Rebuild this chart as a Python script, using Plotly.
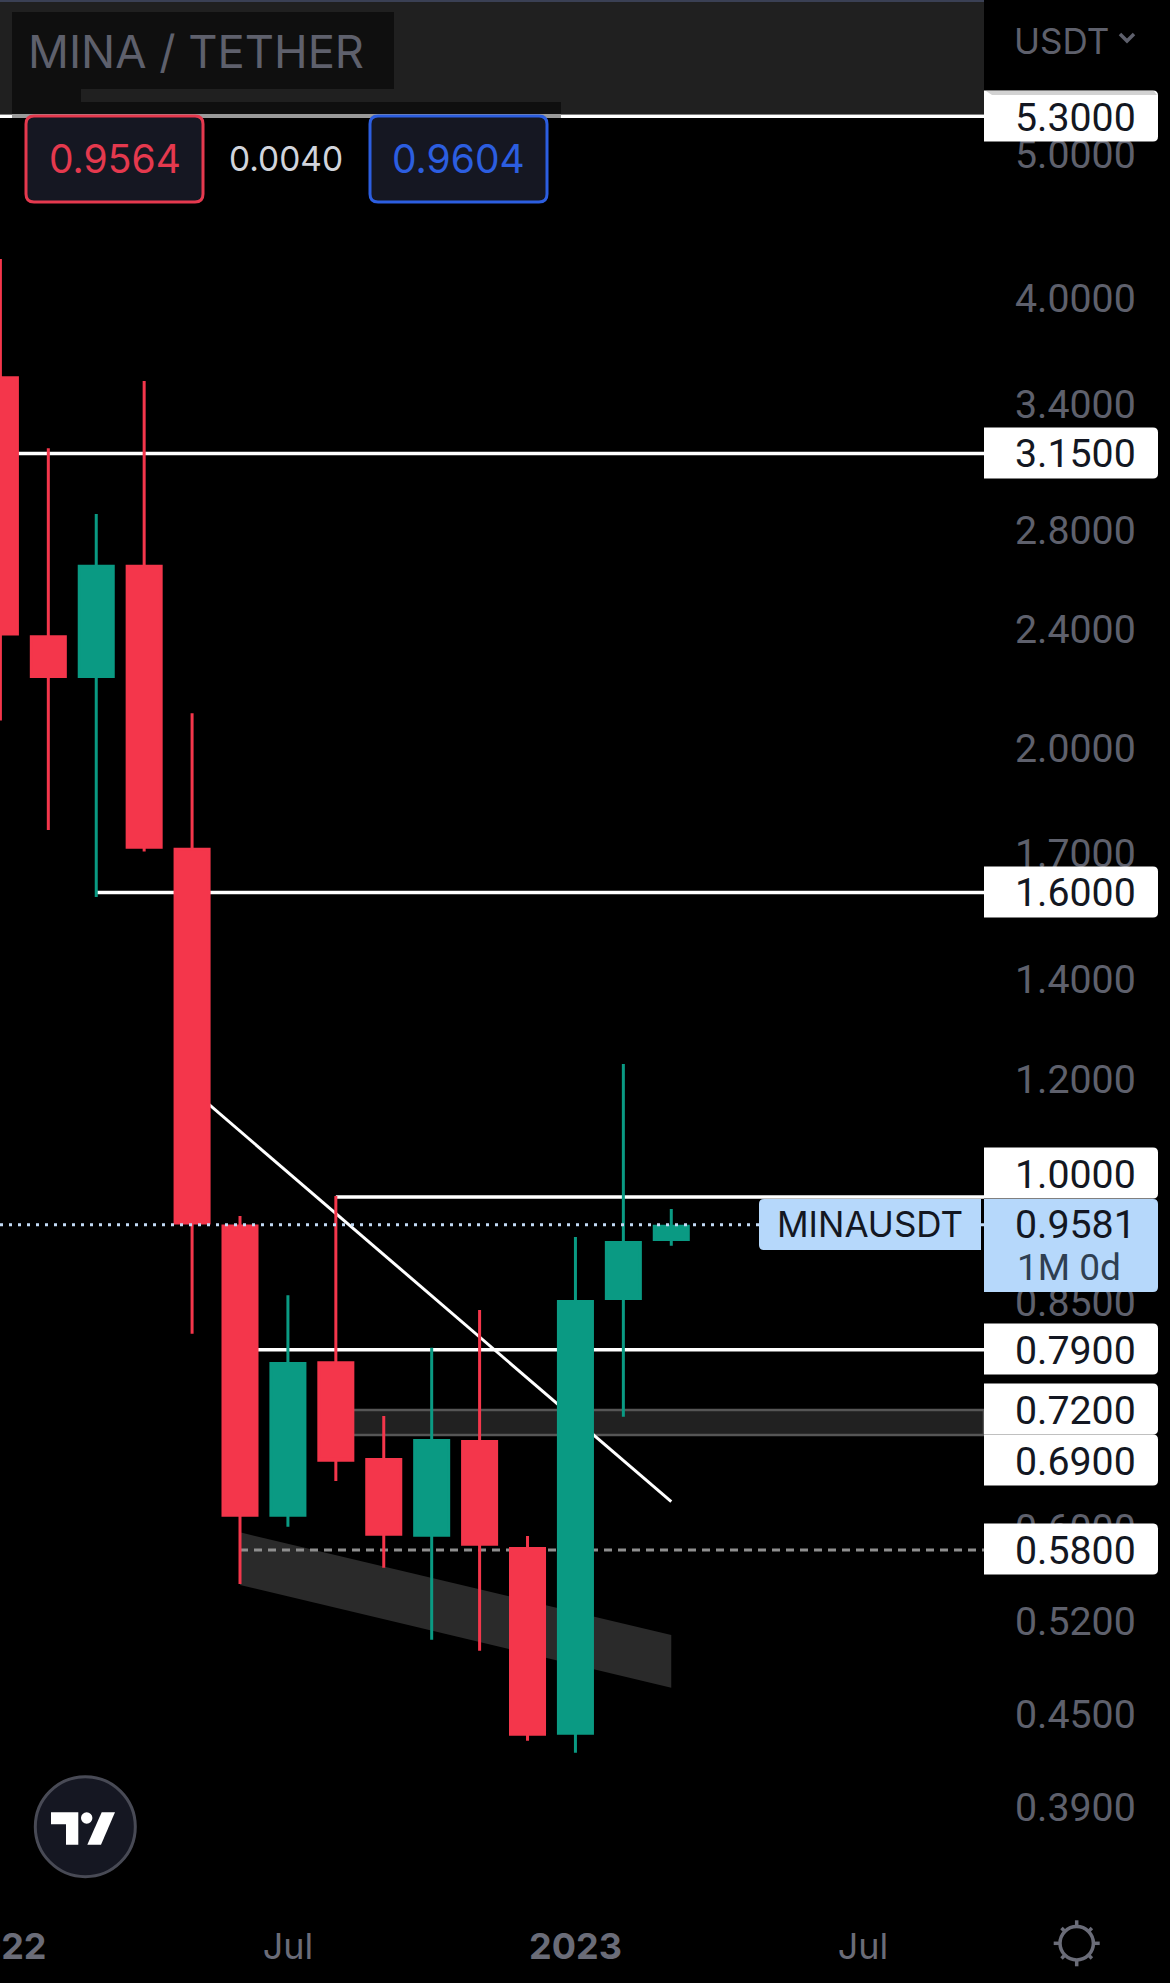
#!/usr/bin/env python3

import math
import plotly.graph_objects as go

# monthly candles, Jan 2022 .. Mar 2023
months = ['2022-01', '2022-02', '2022-03', '2022-04', '2022-05', '2022-06', '2022-07', '2022-08',
          '2022-09', '2022-10', '2022-11', '2022-12', '2023-01', '2023-02', '2023-03']
opens = [3.541, 2.374, 2.233, 2.647, 1.71, 0.9561, 0.612, 0.7744, 0.6669, 0.5934, 0.6857, 0.5814, 0.4371, 0.855, 0.9366]
highs = [4.253, 3.176, 2.869, 3.523, 2.11, 0.9711, 0.8594, 1.0015, 0.7132, 0.7925, 0.84, 0.5927, 0.9401, 1.2278, 0.9817]
lows = [2.086, 1.762, 1.589, 1.7046, 0.8097, 0.5503, 0.6012, 0.6451, 0.5644, 0.505, 0.4965, 0.4321, 0.4242, 0.7125, 0.9276]
closes = [2.384, 2.233, 2.647, 1.7154, 0.9605, 0.612, 0.7734, 0.6661, 0.5943, 0.6868, 0.5851, 0.4365, 0.851, 0.9322, 0.9559]

# axis ticks
price_ticks = [5.0, 4.0, 3.4, 2.8, 2.4, 2.0, 1.7, 1.4, 1.2, 0.85, 0.6, 0.52, 0.45, 0.39]
time_ticks = [0, 6, 12, 18]
time_labels = ['<b>2022</b>', 'Jul', '<b>2023</b>', 'Jul']

# drawn levels: price and the candle index they start from
level_prices = [5.3, 3.15, 1.6, 1.0, 0.79]
level_starts = [-1, 0, 2, 7, 5]
dashed_level = 0.58
dashed_start = 5
box_start = 7
box_top, box_bottom = 0.72, 0.6926
trend_x = [4, 14]
trend_y = [1.1796, 0.6249]
wedge_x = [5, 14, 14, 5]
wedge_y = [0.596, 0.5087, 0.4689, 0.5495]
last_price = 0.9581

# price tags on the right: label, centre of tag (page px)
tags = [('5.3000', 116), ('3.1500', 453), ('1.6000', 892), ('1.0000', 1173),
        ('0.7900', 1349), ('0.7200', 1409), ('0.6900', 1460), ('0.5800', 1549)]

RED = '#F4364B'
GREEN = '#0A9A83'
GREY_TEXT = '#5E606C'
FONT = 'Inter'
NUM_FONT = 'Roboto'

# plot area in page pixels
PLOT_W = 984
PLOT_H = 1915
X_RANGE = [-0.0083, 20.526]


def px(x):
    return x / PLOT_W


def py(y):
    return 1 - y / PLOT_H


def round_rect(x0, y0, x1, y1, rl=0, rr=0):
    """path of a box in page pixels, rl / rr are the corner radii left and right"""
    pts = [f'M{px(x0 + rl)},{py(y0)}', f'L{px(x1 - rr)},{py(y0)}',
           f'Q{px(x1)},{py(y0)} {px(x1)},{py(y0 + rr)}', f'L{px(x1)},{py(y1 - rr)}',
           f'Q{px(x1)},{py(y1)} {px(x1 - rr)},{py(y1)}', f'L{px(x0 + rl)},{py(y1)}',
           f'Q{px(x0)},{py(y1)} {px(x0)},{py(y1 - rl)}', f'L{px(x0)},{py(y0 + rl)}',
           f'Q{px(x0)},{py(y0)} {px(x0 + rl)},{py(y0)}', 'Z']
    return ' '.join(pts)


def box(x0, y0, x1, y1, fill, rl=0, rr=0, line=None, lw=0):
    return dict(type='path', xref='paper', yref='paper', layer='above',
                path=round_rect(x0, y0, x1, y1, rl, rr), fillcolor=fill,
                line=dict(color=line if line else fill, width=lw))


def poly(points, fill):
    path = 'M' + ' L'.join(f'{px(x)},{py(y)}' for x, y in points) + ' Z'
    return dict(type='path', xref='paper', yref='paper', layer='above', path=path,
                fillcolor=fill, line=dict(width=0))


def stroke(points, color, width):
    path = 'M' + ' L'.join(f'{px(x)},{py(y)}' for x, y in points)
    return dict(type='path', xref='paper', yref='paper', layer='above', path=path,
                line=dict(color=color, width=width))


def circle(cx, cy, r, fill, line=None, lw=0):
    return dict(type='circle', xref='paper', yref='paper', layer='above',
                x0=px(cx - r), x1=px(cx + r), y0=py(cy + r), y1=py(cy - r),
                fillcolor=fill, line=dict(color=line if line else fill, width=lw))


def label(x, y, text, size, color, anchor='center', family=FONT):
    return dict(xref='paper', yref='paper', x=px(x), y=py(y), text=text, showarrow=False,
                xanchor=anchor, yanchor='middle', align=anchor,
                font=dict(family=family, size=size, color=color))


fig = go.Figure()

# last price dotted line sits over the candles
fig.add_trace(go.Candlestick(x=list(range(len(months))), open=opens, high=highs, low=lows, close=closes,
                             increasing=dict(line=dict(color=GREEN, width=3), fillcolor=GREEN),
                             decreasing=dict(line=dict(color=RED, width=3), fillcolor=RED),
                             whiskerwidth=0, showlegend=False, text=months))
fig.add_trace(go.Scatter(x=[X_RANGE[0], X_RANGE[1]], y=[last_price, last_price], mode='lines',
                         line=dict(color='#C4DCF7', width=3, dash='3px,6px'), showlegend=False))

# drawings under the candles
shapes = []
shapes.append(dict(type='path', xref='x', yref='y', layer='below',
                   path='M' + ' L'.join(f'{x},{y}' for x, y in zip(wedge_x, wedge_y)) + ' Z',
                   fillcolor='#2A2A2A', line=dict(width=0)))
shapes.append(dict(type='rect', xref='x', yref='y', layer='below', x0=box_start, x1=X_RANGE[1],
                   y0=box_bottom, y1=box_top, fillcolor='#212121', line=dict(color='#565656', width=2.5)))
for price, start in zip(level_prices, level_starts):
    shapes.append(dict(type='line', xref='x', yref='y', layer='below', x0=start, x1=X_RANGE[1],
                       y0=price, y1=price, line=dict(color='#FFFFFF', width=3.5)))
shapes.append(dict(type='line', xref='x', yref='y', layer='below', x0=dashed_start, x1=X_RANGE[1],
                   y0=dashed_level, y1=dashed_level, line=dict(color='#8E8E8E', width=3, dash='8px,6px')))
shapes.append(dict(type='line', xref='x', yref='y', layer='below', x0=trend_x[0], x1=trend_x[1],
                   y0=trend_y[0], y1=trend_y[1], line=dict(color='#FFFFFF', width=3)))

# header strip
shapes.append(box(0, 0, PLOT_W, 2, '#3A4054'))
shapes.append(box(0, 2, PLOT_W, 114, '#202020'))
shapes.append(box(12, 12, 394, 89, '#0F0F0F'))
shapes.append(box(12, 89, 81, 102, '#0F0F0F'))
shapes.append(box(12, 102, 561, 114, '#0F0F0F'))
shapes.append(box(12, 114, 561, 118, '#9A9A9A'))
shapes.append(box(26, 116, 203, 202, '#151722', 8, 8, '#E5394E', 3))
shapes.append(box(370, 116, 547, 202, '#151722', 8, 8, '#2C5EE0', 3))

# price tags
for text, cy in tags:
    shapes.append(box(984, cy - 25.5, 1158, cy + 25.5, '#FFFFFF', 0, 5))
shapes.append(poly([(986, 91), (1154, 91), (1157, 95), (992, 95)], '#D2D2D2'))
shapes.append(box(984, 1199, 1158, 1292, '#B6D8FB', 0, 5))
shapes.append(box(759, 1199, 981, 1250, '#B6D8FB', 5, 0))
shapes.append(stroke([(1120, 34), (1127, 41), (1134, 34)], GREY_TEXT, 3.5))

# tradingview badge
shapes.append(circle(85.3, 1826.7, 50, '#151722', '#484A55', 3))
shapes.append(poly([(51, 1812.3), (78.3, 1812.3), (78.3, 1844.7), (66, 1844.7), (66, 1824.3), (51, 1824.3)], '#FFFFFF'))
shapes.append(circle(86.7, 1818, 5.7, '#FFFFFF'))
shapes.append(poly([(101.7, 1812.3), (115, 1812.3), (101, 1844.7), (87.3, 1844.7)], '#FFFFFF'))

# theme switch icon
cx, cy = 1076.7, 1943.3
shapes.append(circle(cx, cy, 16.7, 'rgba(0,0,0,0)', '#6A6C78', 3.5))
for k in range(8):
    a = k * math.pi / 4
    r = 23 if k % 2 == 0 else 21.5
    shapes.append(stroke([(cx + 16.7 * math.cos(a), cy + 16.7 * math.sin(a)),
                          (cx + r * math.cos(a), cy + r * math.sin(a))], '#6A6C78', 3.5))

notes = [label(25.5, 51, 'MINA / TETHER', 45.3, GREY_TEXT, 'left'),
         label(114.5, 159, '0.9564', 39, '#E5394E'),
         label(286, 159, '0.0040', 33.5, '#D1D4DC'),
         label(458.5, 159, '0.9604', 39, '#2C5EE0'),
         label(1012, 41, 'USDT', 35, GREY_TEXT, 'left'),
         label(870, 1224, 'MINAUSDT', 35, '#131722'),
         label(1138, 1225, '0.9581', 39.3, '#131722', 'right', NUM_FONT),
         label(1015, 1267, '1M 0d', 37, '#2F3F52', 'left', NUM_FONT)]
for text, cy in tags:
    notes.append(label(1138, cy + 1.5, text, 39.3, '#131722', 'right', NUM_FONT))

fig.update_layout(width=1170, height=1983, autosize=False,
                  margin=dict(l=0, r=1170 - PLOT_W, t=0, b=1983 - PLOT_H, pad=0),
                  paper_bgcolor='#000000', plot_bgcolor='#000000',
                  showlegend=False, boxgap=0.29, boxgroupgap=0, hovermode=False,
                  shapes=shapes, annotations=notes,
                  font=dict(family=FONT, size=36, color=GREY_TEXT),
                  xaxis=dict(range=X_RANGE, type='linear', rangeslider=dict(visible=False),
                             tickmode='array', tickvals=time_ticks, ticktext=time_labels,
                             ticks='', showgrid=False, zeroline=False, showline=False,
                             ticklabelstandoff=7, automargin=False, ticklabeloverflow='allow',
                             tickfont=dict(family=FONT, size=36, color='#6A6C78')),
                  yaxis=dict(type='log', range=[-0.4812, 0.80224], side='right',
                             tickmode='array', tickvals=price_ticks,
                             ticktext=[f'{p:.4f}' for p in price_ticks],
                             ticks='', showgrid=False, zeroline=False, showline=False,
                             ticklabelstandoff=30, automargin=False,
                             tickfont=dict(family=NUM_FONT, size=39.3, color=GREY_TEXT)))

# the page's default body margin would shift the picture
fig.write_html("out.html", config=dict(displayModeBar=False),
               post_script="document.body.style.margin='0';document.body.style.background='#000';window.dispatchEvent(new Event('resize'));")
